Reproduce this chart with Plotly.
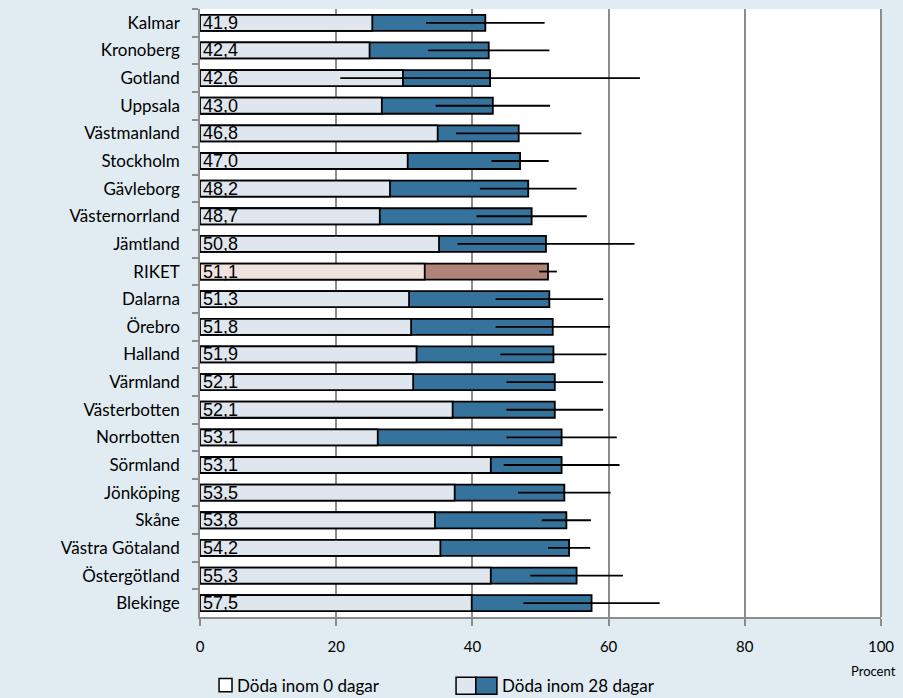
import plotly.graph_objects as go

regions = [
    "Kalmar", "Kronoberg", "Gotland", "Uppsala", "Västmanland", "Stockholm",
    "Gävleborg", "Västernorrland", "Jämtland", "RIKET", "Dalarna", "Örebro",
    "Halland", "Värmland", "Västerbotten", "Norrbotten", "Sörmland",
    "Jönköping", "Skåne", "Västra Götaland", "Östergötland", "Blekinge",
]
dead_28 = [41.9, 42.4, 42.6, 43.0, 46.8, 47.0, 48.2, 48.7, 50.8, 51.1, 51.3,
           51.8, 51.9, 52.1, 52.1, 53.1, 53.1, 53.5, 53.8, 54.2, 55.3, 57.5]
dead_0 = [25.3, 24.9, 29.8, 26.7, 34.9, 30.5, 27.9, 26.4, 35.1, 33.0, 30.7,
          31.0, 31.8, 31.3, 37.1, 26.1, 42.7, 37.4, 34.5, 35.3, 42.7, 39.9]
ci_28 = [8.7, 8.9, 22.0, 8.4, 9.2, 4.2, 7.1, 8.1, 13.0, 1.3, 7.9,
         8.4, 7.8, 7.1, 7.1, 8.1, 8.5, 6.8, 3.6, 3.1, 6.8, 10.0]

BG = "#e1ebf2"
LIGHT, DARK = "#dfe6ee", "#35729c"
LIGHT_R, DARK_R = "#f0e3df", "#b08479"

light_cols = [LIGHT_R if r == "RIKET" else LIGHT for r in regions]
dark_cols = [DARK_R if r == "RIKET" else DARK for r in regions]
labels = [f"{v:.1f}".replace(".", ",") for v in dead_28]

fig = go.Figure()
fig.add_trace(go.Bar(
    x=dead_28, y=regions, orientation="h", width=0.58,
    marker=dict(color=dark_cols, line=dict(color="black", width=1.8)),
    hoverinfo="skip",
))
fig.add_trace(go.Bar(
    x=dead_0, y=regions, orientation="h", width=0.58,
    marker=dict(color=light_cols, line=dict(color="black", width=1.8)),
    text=labels, textposition="inside", insidetextanchor="start",
    textangle=0, constraintext="none",
    textfont=dict(family="Liberation Sans, Arial", size=18, color="black"),
    hoverinfo="skip",
))
fig.add_trace(go.Scatter(
    x=dead_28, y=regions, mode="markers",
    marker=dict(size=1, opacity=0),
    error_x=dict(type="data", array=ci_28, width=0, thickness=1.8, color="black"),
    hoverinfo="skip",
))

fig.update_layout(
    width=903, height=698,
    barmode="overlay",
    showlegend=False,
    paper_bgcolor=BG,
    plot_bgcolor="white",
    margin=dict(l=200, r=19, t=9, b=81),
    font=dict(family="Lato, Open Sans, sans-serif", size=17, color="black"),
    xaxis=dict(
        range=[0, 100], tickvals=[0, 20, 40, 60, 80, 100],
        showgrid=True, gridcolor="#8c8c8c", gridwidth=1.5,
        showline=True, linecolor="#8c8c8c", linewidth=1.5, mirror=False,
        ticks="outside", ticklen=7, tickcolor="#8c8c8c", tickwidth=1.5,
        ticklabelstandoff=8, tickfont=dict(size=15), zeroline=False,
        fixedrange=True,
    ),
    yaxis=dict(
        range=[len(regions) - 0.5, -0.5], showline=True, linecolor="#8c8c8c",
        linewidth=1.5, ticks="outside", tickson="boundaries", ticklen=6,
        tickcolor="#8c8c8c", tickwidth=1.5, ticklabelstandoff=15,
        tickfont=dict(size=17), showgrid=False, fixedrange=True,
    ),
)

# right border of plot area
fig.add_shape(type="line", xref="paper", yref="paper", x0=1, x1=1, y0=0, y1=1,
              line=dict(color="#8c8c8c", width=2))

# custom legend
fig.add_shape(type="rect", xref="paper", yref="paper",
              x0=0.028, x1=0.047, y0=-0.123, y1=-0.101,
              fillcolor="white", line=dict(color="black", width=1.5))
fig.add_annotation(text="Döda inom 0 dagar", xref="paper", yref="paper",
                   x=0.051, y=-0.112, xanchor="left", yanchor="middle",
                   showarrow=False, font=dict(size=17))
fig.add_shape(type="rect", xref="paper", yref="paper",
              x0=0.376, x1=0.405, y0=-0.127, y1=-0.099,
              fillcolor=LIGHT, line=dict(color="black", width=1.5))
fig.add_shape(type="rect", xref="paper", yref="paper",
              x0=0.405, x1=0.436, y0=-0.127, y1=-0.099,
              fillcolor=DARK, line=dict(color="black", width=1.5))
fig.add_annotation(text="Döda inom 28 dagar", xref="paper", yref="paper",
                   x=0.441, y=-0.112, xanchor="left", yanchor="middle",
                   showarrow=False, font=dict(size=17))
fig.add_annotation(text="Procent", xref="paper", yref="paper",
                   x=1.025, y=-0.089, xanchor="right", yanchor="middle",
                   showarrow=False, font=dict(size=13))

fig.write_html("out.html", config={"displayModeBar": False},
               post_script="document.body.style.margin='0';")
